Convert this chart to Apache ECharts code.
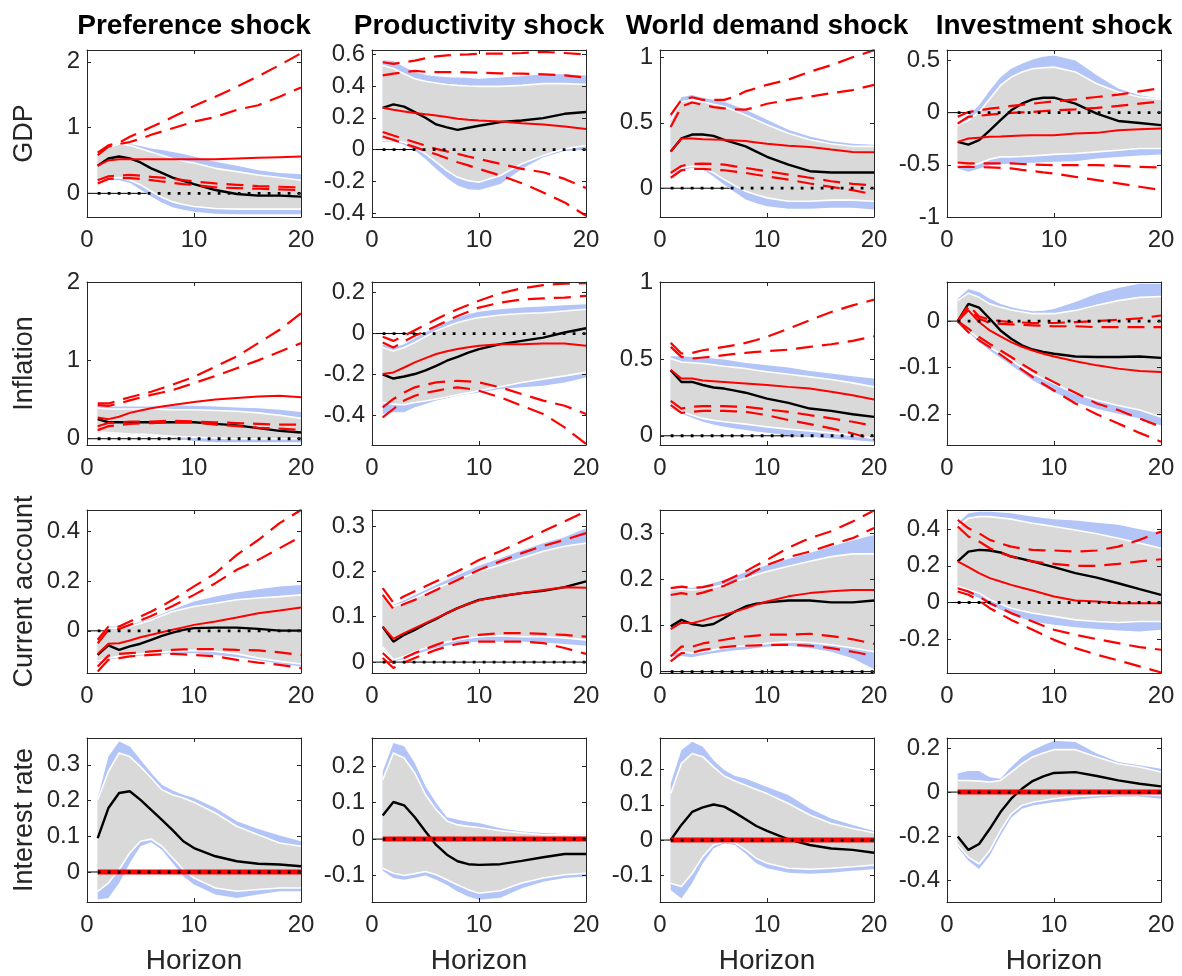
<!DOCTYPE html>
<html>
<head>
<meta charset="utf-8">
<script src="https://cdn.jsdelivr.net/npm/echarts@6/dist/echarts.min.js"></script>
<style>html,body{margin:0;padding:0;background:#fff}#c{width:1182px;height:976px}</style>
</head>
<body>
<div id="c"></div>
<script>
// ---------- shared axes / labels ----------
const H = [1,2,3,4,5,6,7,8,9,10,12,14,16,18,20];
const shocks = ['Preference shock','Productivity shock','World demand shock','Investment shock'];
const variables = ['GDP','Inflation','Current account','Interest rate'];
const xTicks = [0,10,20];

const gdpTicks = [[0,1,2],[-0.4,-0.2,0,0.2,0.4,0.6],[0,0.5,1],[-1,-0.5,0,0.5]];
const infTicks = [[0,1,2],[-0.4,-0.2,0,0.2],[0,0.5,1],[-0.2,-0.1,0]];
const caTicks  = [[0,0.2,0.4],[0,0.1,0.2,0.3],[0,0.1,0.2,0.3],[-0.2,0,0.2,0.4]];
const irTicks  = [[0,0.1,0.2,0.3],[-0.1,0,0.1,0.2],[-0.1,0,0.1,0.2],[-0.4,-0.2,0,0.2]];
const gdpLims = [[-0.36,2.18],[-0.425,0.627],[-0.22,1.056],[-1,0.6]];
const infLims = [[-0.08,2],[-0.545,0.252],[-0.06,1],[-0.266,0.084]];
const caLims  = [[-0.17,0.487],[-0.024,0.335],[-0.003,0.35],[-0.385,0.505]];
const irLims  = [[-0.084,0.375],[-0.173,0.278],[-0.176,0.29],[-0.5,0.246]];

// ---------- GDP ----------
const gdpPrefBlack = [0.42,0.53,0.56,0.53,0.47,0.38,0.31,0.24,0.19,0.14,0.05,-0.01,-0.035,-0.035,-0.05];
const gdpPrefRed   = [0.42,0.50,0.52,0.52,0.52,0.52,0.52,0.52,0.52,0.52,0.52,0.53,0.54,0.55,0.56];
const gdpPrefDU1   = [0.62,0.73,0.77,0.86,0.93,1.01,1.08,1.16,1.24,1.33,1.47,1.62,1.78,1.95,2.13];
const gdpPrefDU2   = [0.58,0.71,0.75,0.78,0.83,0.89,0.94,0.99,1.04,1.09,1.16,1.27,1.34,1.47,1.61];
const gdpPrefDL1   = [0.20,0.26,0.27,0.28,0.27,0.25,0.24,0.22,0.20,0.18,0.15,0.13,0.11,0.10,0.09];
const gdpPrefDL2   = [0.15,0.22,0.23,0.23,0.22,0.20,0.18,0.16,0.14,0.13,0.09,0.08,0.07,0.06,0.05];
const gdpPrefGHi   = [0.60,0.70,0.75,0.73,0.68,0.63,0.58,0.53,0.49,0.46,0.38,0.33,0.28,0.24,0.20];
const gdpPrefBHi   = [0.60,0.70,0.75,0.75,0.72,0.68,0.66,0.63,0.60,0.56,0.48,0.42,0.35,0.31,0.29];
const gdpPrefGLo   = [0.18,0.23,0.24,0.20,0.13,0.03,-0.06,-0.13,-0.17,-0.20,-0.23,-0.24,-0.24,-0.24,-0.24];
const gdpPrefBLo   = [0.16,0.20,0.20,0.16,0.06,-0.05,-0.14,-0.21,-0.25,-0.28,-0.31,-0.32,-0.32,-0.32,-0.32];

const gdpProdBlack = [0.263,0.284,0.27,0.236,0.2,0.158,0.14,0.124,0.137,0.15,0.173,0.183,0.198,0.225,0.236];
const gdpProdRed   = [0.263,0.25,0.24,0.23,0.222,0.215,0.205,0.194,0.188,0.183,0.177,0.166,0.158,0.145,0.13];
const gdpProdDU1   = [0.55,0.54,0.55,0.56,0.575,0.587,0.593,0.598,0.6,0.604,0.604,0.608,0.615,0.608,0.598];
const gdpProdDU2   = [0.467,0.478,0.487,0.495,0.49,0.488,0.488,0.488,0.486,0.484,0.48,0.478,0.474,0.467,0.453];
const gdpProdDL1   = [0.11,0.088,0.067,0.046,0.025,0.004,-0.012,-0.027,-0.044,-0.06,-0.09,-0.122,-0.143,-0.185,-0.242];
const gdpProdDL2   = [0.082,0.061,0.038,0.015,-0.008,-0.03,-0.055,-0.08,-0.1,-0.122,-0.164,-0.212,-0.27,-0.333,-0.417];
const gdpProdGHi   = [0.53,0.51,0.478,0.446,0.43,0.419,0.41,0.404,0.4,0.398,0.398,0.404,0.415,0.415,0.41];
const gdpProdBHi   = [0.562,0.558,0.52,0.488,0.47,0.461,0.456,0.453,0.45,0.446,0.453,0.461,0.474,0.474,0.467];
const gdpProdGLo   = [0.057,0.057,0.046,0.015,-0.027,-0.08,-0.133,-0.175,-0.196,-0.206,-0.164,-0.09,-0.038,0.004,0.025];
const gdpProdBLo   = [0.046,0.05,0.03,-0.006,-0.06,-0.122,-0.18,-0.227,-0.25,-0.255,-0.217,-0.122,-0.048,-0.01,0.0];

const gdpWorldBlack = [0.28,0.38,0.41,0.41,0.4,0.37,0.345,0.32,0.28,0.24,0.18,0.13,0.12,0.12,0.12];
const gdpWorldRed   = [0.28,0.38,0.38,0.375,0.372,0.37,0.365,0.36,0.35,0.34,0.325,0.315,0.295,0.277,0.274];
const gdpWorldDU1   = [0.56,0.675,0.695,0.675,0.675,0.675,0.7,0.74,0.765,0.79,0.83,0.89,0.94,1.0,1.055];
const gdpWorldDU2   = [0.467,0.624,0.655,0.637,0.62,0.61,0.603,0.6,0.62,0.645,0.675,0.7,0.726,0.75,0.79];
const gdpWorldDL1   = [0.117,0.17,0.185,0.188,0.185,0.18,0.167,0.155,0.142,0.13,0.104,0.08,0.053,0.033,0.02];
const gdpWorldDL2   = [0.08,0.137,0.147,0.147,0.142,0.137,0.127,0.117,0.103,0.09,0.066,0.036,0.01,-0.015,-0.048];
const gdpWorldGHi   = [0.523,0.66,0.675,0.66,0.642,0.624,0.592,0.56,0.522,0.485,0.42,0.37,0.34,0.32,0.32];
const gdpWorldBHi   = [0.55,0.695,0.713,0.69,0.675,0.66,0.63,0.6,0.562,0.523,0.447,0.396,0.358,0.34,0.332];
const gdpWorldGLo   = [0.117,0.155,0.168,0.155,0.117,0.066,0.02,-0.023,-0.05,-0.074,-0.1,-0.1,-0.091,-0.091,-0.1];
const gdpWorldBLo   = [0.104,0.14,0.155,0.142,0.09,0.028,-0.03,-0.086,-0.115,-0.137,-0.157,-0.157,-0.15,-0.15,-0.162];

const gdpInvBlack = [-0.28,-0.306,-0.264,-0.169,-0.073,0.022,0.086,0.127,0.143,0.143,0.086,-0.01,-0.08,-0.1,-0.12];
const gdpInvRed   = [-0.28,-0.248,-0.24,-0.232,-0.228,-0.223,-0.22,-0.217,-0.217,-0.217,-0.2,-0.194,-0.169,-0.16,-0.153];
const gdpInvDU1   = [-0.04,0.006,0.022,0.038,0.05,0.064,0.075,0.086,0.097,0.108,0.127,0.15,0.172,0.204,0.236];
const gdpInvDU2   = [-0.105,-0.04,-0.03,-0.02,-0.01,-0.003,0.002,0.006,0.014,0.022,0.032,0.045,0.064,0.086,0.108];
const gdpInvDL1   = [-0.478,-0.487,-0.487,-0.487,-0.487,-0.487,-0.492,-0.497,-0.5,-0.503,-0.503,-0.503,-0.51,-0.52,-0.525];
const gdpInvDL2   = [-0.52,-0.52,-0.522,-0.525,-0.53,-0.535,-0.548,-0.56,-0.572,-0.583,-0.615,-0.646,-0.678,-0.71,-0.742];
const gdpInvGHi   = [-0.12,-0.073,0.006,0.134,0.26,0.34,0.39,0.42,0.43,0.436,0.39,0.277,0.197,0.15,0.127];
const gdpInvBHi   = [-0.09,-0.025,0.07,0.213,0.34,0.42,0.468,0.51,0.535,0.548,0.5,0.357,0.23,0.166,0.134];
const gdpInvGLo   = [-0.503,-0.52,-0.487,-0.446,-0.424,-0.424,-0.42,-0.414,-0.407,-0.4,-0.392,-0.376,-0.36,-0.344,-0.344];
const gdpInvBLo   = [-0.535,-0.567,-0.535,-0.503,-0.495,-0.487,-0.483,-0.48,-0.475,-0.47,-0.465,-0.44,-0.424,-0.41,-0.4];

// ---------- Inflation ----------
const infPrefBlack = [0.25,0.21,0.21,0.21,0.21,0.21,0.21,0.21,0.21,0.21,0.19,0.17,0.136,0.1,0.08];
const infPrefRed   = [0.27,0.25,0.28,0.33,0.36,0.39,0.41,0.43,0.45,0.47,0.5,0.52,0.54,0.55,0.53];
const infPrefDU1   = [0.45,0.45,0.49,0.53,0.565,0.6,0.645,0.69,0.74,0.79,0.92,1.05,1.22,1.39,1.6];
const infPrefDU2   = [0.43,0.42,0.45,0.49,0.525,0.56,0.59,0.62,0.665,0.71,0.8,0.9,1.0,1.11,1.22];
const infPrefDL1   = [0.16,0.2,0.21,0.22,0.22,0.22,0.225,0.23,0.225,0.22,0.21,0.2,0.19,0.18,0.18];
const infPrefDL2   = [0.11,0.16,0.175,0.19,0.195,0.2,0.205,0.21,0.215,0.21,0.18,0.16,0.14,0.13,0.11];
const infPrefGHi   = [0.39,0.38,0.38,0.38,0.38,0.38,0.375,0.37,0.37,0.37,0.36,0.35,0.33,0.3,0.26];
const infPrefBHi   = [0.42,0.41,0.41,0.41,0.41,0.41,0.415,0.42,0.42,0.42,0.41,0.4,0.39,0.37,0.34];
const infPrefGLo   = [0.09,0.08,0.07,0.06,0.055,0.05,0.04,0.03,0.025,0.02,0.01,0.0,0.0,0.0,0.0];
const infPrefBLo   = [0.08,0.07,0.06,0.05,0.045,0.04,0.03,0.015,-0.01,-0.03,-0.045,-0.045,-0.045,-0.045,-0.045];

const infProdBlack = [-0.2,-0.22,-0.21,-0.198,-0.18,-0.158,-0.133,-0.114,-0.093,-0.076,-0.052,-0.036,-0.02,0.005,0.026];
const infProdRed   = [-0.198,-0.19,-0.166,-0.141,-0.12,-0.1,-0.087,-0.076,-0.067,-0.06,-0.052,-0.052,-0.049,-0.049,-0.06];
const infProdDU1   = [-0.016,-0.036,-0.011,0.016,0.043,0.07,0.095,0.119,0.14,0.16,0.197,0.221,0.237,0.244,0.246];
const infProdDU2   = [-0.044,-0.068,-0.039,-0.011,0.013,0.037,0.062,0.086,0.107,0.127,0.151,0.167,0.172,0.176,0.184];
const infProdDL1   = [-0.361,-0.32,-0.288,-0.263,-0.25,-0.239,-0.234,-0.231,-0.234,-0.239,-0.263,-0.296,-0.328,-0.353,-0.393];
const infProdDL2   = [-0.41,-0.369,-0.328,-0.304,-0.29,-0.28,-0.27,-0.263,-0.27,-0.28,-0.312,-0.353,-0.393,-0.459,-0.54];
const infProdGHi   = [-0.068,-0.085,-0.068,-0.044,-0.015,0.013,0.034,0.054,0.067,0.078,0.091,0.098,0.102,0.11,0.119];
const infProdBHi   = [-0.052,-0.068,-0.052,-0.023,0.005,0.033,0.056,0.078,0.094,0.107,0.119,0.127,0.132,0.138,0.143];
const infProdGLo   = [-0.337,-0.345,-0.348,-0.337,-0.33,-0.32,-0.31,-0.299,-0.29,-0.28,-0.26,-0.239,-0.223,-0.207,-0.19];
const infProdBLo   = [-0.393,-0.385,-0.385,-0.361,-0.345,-0.328,-0.316,-0.304,-0.296,-0.288,-0.271,-0.263,-0.255,-0.239,-0.215];

const infWorldBlack = [0.426,0.35,0.35,0.33,0.314,0.307,0.294,0.28,0.261,0.242,0.214,0.177,0.162,0.14,0.123];
const infWorldRed   = [0.43,0.372,0.372,0.36,0.355,0.35,0.345,0.34,0.335,0.33,0.318,0.307,0.286,0.264,0.236];
const infWorldDU1   = [0.604,0.535,0.539,0.556,0.567,0.578,0.59,0.604,0.623,0.643,0.697,0.751,0.805,0.848,0.885];
const infWorldDU2   = [0.578,0.513,0.502,0.509,0.516,0.524,0.532,0.539,0.545,0.55,0.56,0.578,0.595,0.617,0.647];
const infWorldDL1   = [0.227,0.177,0.188,0.193,0.193,0.193,0.19,0.188,0.18,0.171,0.156,0.134,0.113,0.091,0.063];
const infWorldDL2   = [0.2,0.149,0.156,0.162,0.162,0.162,0.159,0.156,0.145,0.134,0.102,0.076,0.048,0.015,-0.024];
const infWorldGHi   = [0.502,0.48,0.475,0.47,0.461,0.452,0.445,0.437,0.426,0.416,0.4,0.383,0.366,0.344,0.318];
const infWorldBHi   = [0.517,0.517,0.513,0.509,0.503,0.496,0.485,0.474,0.466,0.459,0.444,0.422,0.405,0.387,0.372];
const infWorldGLo   = [0.188,0.156,0.134,0.113,0.1,0.091,0.083,0.076,0.067,0.058,0.043,0.032,0.019,0.004,-0.017];
const infWorldBLo   = [0.177,0.145,0.118,0.091,0.074,0.058,0.047,0.037,0.028,0.019,0.004,-0.006,-0.017,-0.028,-0.039];

const infInvBlack = [0,0.037,0.029,0.005,-0.02,-0.038,-0.052,-0.061,-0.066,-0.07,-0.076,-0.077,-0.077,-0.076,-0.079];
const infInvRed   = [0,0.023,-0.002,-0.02,-0.033,-0.045,-0.055,-0.063,-0.07,-0.076,-0.086,-0.095,-0.102,-0.107,-0.109];
const infInvDU1   = [0,0.034,0.01,0.003,0,-0.002,-0.003,-0.004,-0.004,-0.004,-0.002,0,0.003,0.006,0.012];
const infInvDU2   = [0,0.029,0.005,-0.004,-0.006,-0.007,-0.008,-0.009,-0.01,-0.011,-0.011,-0.013,-0.013,-0.013,-0.013];
const infInvDL1   = [0,-0.016,-0.034,-0.049,-0.063,-0.077,-0.092,-0.106,-0.119,-0.131,-0.154,-0.177,-0.191,-0.209,-0.227];
const infInvDL2   = [0,-0.024,-0.041,-0.056,-0.072,-0.088,-0.104,-0.12,-0.135,-0.149,-0.177,-0.2,-0.22,-0.24,-0.259];
const infInvGHi   = [0.044,0.06,0.051,0.037,0.03,0.024,0.02,0.016,0.016,0.016,0.023,0.034,0.044,0.051,0.053];
const infInvBHi   = [0.048,0.069,0.062,0.048,0.037,0.03,0.025,0.021,0.022,0.026,0.041,0.059,0.071,0.08,0.08];
const infInvGLo   = [-0.006,-0.02,-0.038,-0.056,-0.07,-0.084,-0.099,-0.113,-0.124,-0.134,-0.156,-0.17,-0.181,-0.191,-0.206];
const infInvBLo   = [-0.008,-0.024,-0.045,-0.063,-0.079,-0.095,-0.111,-0.127,-0.14,-0.152,-0.174,-0.188,-0.199,-0.209,-0.224];

// ---------- Current account ----------
const caPrefBlack = [-0.097,-0.059,-0.077,-0.063,-0.052,-0.036,-0.02,-0.007,0.004,0.011,0.013,0.013,0.008,0.001,0.001];
const caPrefRed   = [-0.093,-0.052,-0.05,-0.039,-0.026,-0.016,-0.006,0.004,0.014,0.024,0.038,0.054,0.071,0.082,0.094];
const caPrefDU1   = [-0.036,0.017,0.017,0.038,0.058,0.078,0.1,0.125,0.152,0.179,0.232,0.306,0.366,0.434,0.487];
const caPrefDU2   = [-0.05,0.004,0.007,0.024,0.042,0.06,0.08,0.1,0.122,0.145,0.192,0.246,0.286,0.333,0.38];
const caPrefDL1   = [-0.144,-0.1,-0.093,-0.09,-0.087,-0.083,-0.08,-0.077,-0.075,-0.074,-0.074,-0.077,-0.079,-0.087,-0.097];
const caPrefDL2   = [-0.164,-0.117,-0.11,-0.103,-0.1,-0.097,-0.095,-0.093,-0.095,-0.097,-0.103,-0.117,-0.128,-0.137,-0.15];
const caPrefGHi   = [-0.03,0.011,0.011,0.017,0.03,0.044,0.061,0.078,0.088,0.098,0.111,0.125,0.132,0.138,0.145];
const caPrefBHi   = [-0.023,0.017,0.017,0.024,0.037,0.051,0.068,0.085,0.102,0.118,0.138,0.154,0.168,0.179,0.185];
const caPrefGLo   = [-0.123,-0.11,-0.103,-0.097,-0.093,-0.09,-0.087,-0.083,-0.081,-0.079,-0.083,-0.093,-0.11,-0.123,-0.134];
const caPrefBLo   = [-0.13,-0.117,-0.11,-0.103,-0.1,-0.097,-0.093,-0.09,-0.09,-0.09,-0.097,-0.106,-0.119,-0.133,-0.144];

const caProdBlack = [0.078,0.045,0.06,0.071,0.084,0.095,0.108,0.119,0.128,0.137,0.145,0.152,0.157,0.165,0.178];
const caProdRed   = [0.078,0.051,0.064,0.075,0.086,0.097,0.108,0.119,0.128,0.136,0.145,0.152,0.159,0.165,0.164];
const caProdDU1   = [0.163,0.131,0.145,0.156,0.167,0.178,0.189,0.2,0.212,0.225,0.244,0.266,0.288,0.31,0.332];
const caProdDU2   = [0.148,0.117,0.128,0.137,0.148,0.159,0.17,0.181,0.192,0.203,0.222,0.24,0.256,0.269,0.284];
const caProdDL1   = [0.02,-0.002,0.009,0.02,0.029,0.038,0.046,0.053,0.057,0.06,0.064,0.064,0.062,0.06,0.056];
const caProdDL2   = [0.009,-0.013,-0.001,0.009,0.018,0.027,0.034,0.04,0.043,0.045,0.045,0.045,0.042,0.031,0.018];
const caProdGHi   = [0.156,0.123,0.13,0.141,0.152,0.163,0.172,0.181,0.191,0.2,0.214,0.229,0.244,0.255,0.262];
const caProdBHi   = [0.159,0.126,0.136,0.148,0.159,0.17,0.181,0.192,0.202,0.212,0.229,0.246,0.262,0.275,0.295];
const caProdGLo   = [0.034,0.005,0.012,0.023,0.031,0.038,0.044,0.049,0.053,0.056,0.058,0.056,0.056,0.053,0.049];
const caProdBLo   = [0.031,0.002,0.007,0.016,0.024,0.031,0.036,0.04,0.043,0.045,0.045,0.045,0.043,0.04,0.036];

const caWorldBlack = [0.098,0.112,0.103,0.099,0.103,0.116,0.13,0.141,0.147,0.15,0.154,0.154,0.15,0.15,0.154];
const caWorldRed   = [0.092,0.106,0.105,0.111,0.118,0.123,0.13,0.137,0.145,0.152,0.163,0.17,0.174,0.177,0.177];
const caWorldDU1   = [0.181,0.184,0.181,0.183,0.188,0.195,0.206,0.217,0.23,0.242,0.268,0.289,0.304,0.325,0.349];
const caWorldDU2   = [0.166,0.17,0.166,0.171,0.178,0.186,0.196,0.206,0.219,0.231,0.248,0.26,0.275,0.289,0.311];
const caWorldDL1   = [0.033,0.054,0.054,0.061,0.065,0.069,0.073,0.076,0.078,0.08,0.08,0.082,0.077,0.07,0.06];
const caWorldDL2   = [0.022,0.04,0.041,0.047,0.05,0.053,0.055,0.056,0.057,0.058,0.058,0.056,0.051,0.043,0.034];
const caWorldGHi   = [0.177,0.179,0.177,0.179,0.183,0.188,0.195,0.202,0.21,0.217,0.228,0.239,0.249,0.255,0.255];
const caWorldBHi   = [0.181,0.183,0.181,0.186,0.192,0.199,0.207,0.215,0.223,0.231,0.244,0.257,0.271,0.284,0.296];
const caWorldGLo   = [0.04,0.043,0.04,0.043,0.047,0.051,0.054,0.056,0.059,0.061,0.065,0.063,0.058,0.051,0.043];
const caWorldBLo   = [0.033,0.034,0.031,0.036,0.04,0.043,0.046,0.048,0.051,0.054,0.056,0.051,0.043,0.029,0.005];

const caInvBlack = [0.224,0.278,0.287,0.284,0.273,0.251,0.238,0.224,0.208,0.193,0.16,0.136,0.105,0.073,0.042];
const caInvRed   = [0.224,0.193,0.16,0.133,0.115,0.096,0.08,0.065,0.049,0.033,0.011,0.005,-0.004,-0.004,-0.004];
const caInvDU1   = [0.451,0.405,0.378,0.342,0.322,0.305,0.295,0.287,0.285,0.284,0.278,0.284,0.305,0.342,0.387];
const caInvDU2   = [0.415,0.36,0.333,0.296,0.272,0.251,0.236,0.224,0.216,0.211,0.2,0.2,0.211,0.224,0.236];
const caInvDL1   = [0.078,0.06,0.033,-0.004,-0.031,-0.058,-0.081,-0.104,-0.127,-0.149,-0.176,-0.2,-0.222,-0.244,-0.258];
const caInvDL2   = [0.06,0.042,0.011,-0.031,-0.063,-0.095,-0.122,-0.149,-0.177,-0.204,-0.249,-0.285,-0.316,-0.349,-0.382];
const caInvGHi   = [0.415,0.46,0.469,0.469,0.462,0.455,0.444,0.433,0.424,0.415,0.396,0.375,0.351,0.324,0.296];
const caInvBHi   = [0.433,0.487,0.496,0.496,0.491,0.487,0.478,0.469,0.462,0.455,0.447,0.436,0.424,0.4,0.378];
const caInvGLo   = [0.087,0.069,0.051,0.015,-0.008,-0.031,-0.045,-0.058,-0.067,-0.076,-0.095,-0.104,-0.109,-0.104,-0.104];
const caInvBLo   = [0.078,0.051,0.024,-0.013,-0.04,-0.067,-0.086,-0.104,-0.113,-0.122,-0.135,-0.145,-0.153,-0.158,-0.149];

// ---------- Interest rate ----------
const irPrefBlack = [0.095,0.179,0.221,0.226,0.202,0.174,0.146,0.117,0.086,0.067,0.044,0.03,0.023,0.021,0.016];
const irPrefRed   = [0,0,0,0,0,0,0,0,0,0,0,0,0,0,0];
const irPrefGHi   = [0.202,0.281,0.333,0.323,0.295,0.263,0.23,0.216,0.207,0.195,0.165,0.128,0.104,0.081,0.072];
const irPrefBHi   = [0.207,0.323,0.365,0.351,0.314,0.277,0.244,0.228,0.216,0.207,0.179,0.142,0.12,0.102,0.086];
const irPrefGLo   = [-0.054,-0.031,0.007,0.053,0.086,0.092,0.072,0.039,0.007,-0.017,-0.045,-0.054,-0.049,-0.045,-0.045];
const irPrefBLo   = [-0.077,-0.073,-0.031,0.025,0.072,0.083,0.062,0.025,-0.012,-0.035,-0.063,-0.073,-0.063,-0.054,-0.054];

const irProdBlack = [0.065,0.102,0.093,0.06,0.021,-0.016,-0.043,-0.061,-0.069,-0.071,-0.069,-0.06,-0.05,-0.041,-0.041];
const irProdRed   = [0,0,0,0,0,0,0,0,0,0,0,0,0,0,0];
const irProdGHi   = [0.163,0.237,0.223,0.182,0.122,0.081,0.05,0.039,0.035,0.032,0.023,0.017,0.012,0.012,0.01];
const irProdBHi   = [0.186,0.264,0.255,0.209,0.145,0.099,0.06,0.053,0.048,0.044,0.03,0.021,0.017,0.014,0.012];
const irProdGLo   = [-0.08,-0.094,-0.1,-0.095,-0.089,-0.098,-0.112,-0.126,-0.139,-0.149,-0.142,-0.121,-0.107,-0.098,-0.094];
const irProdBLo   = [-0.087,-0.107,-0.112,-0.106,-0.1,-0.112,-0.126,-0.144,-0.158,-0.167,-0.161,-0.135,-0.117,-0.107,-0.103];

const irWorldBlack = [0,0.043,0.08,0.093,0.101,0.095,0.078,0.059,0.04,0.026,0.002,-0.014,-0.024,-0.028,-0.036];
const irWorldRed   = [0,0,0,0,0,0,0,0,0,0,0,0,0,0,0];
const irWorldGHi   = [0.132,0.218,0.246,0.237,0.208,0.182,0.168,0.156,0.144,0.132,0.104,0.071,0.047,0.033,0.021];
const irWorldBHi   = [0.161,0.255,0.279,0.265,0.227,0.199,0.182,0.175,0.163,0.151,0.128,0.09,0.061,0.043,0.026];
const irWorldGLo   = [-0.123,-0.132,-0.095,-0.047,-0.014,-0.005,-0.008,-0.028,-0.052,-0.066,-0.08,-0.083,-0.08,-0.076,-0.071];
const irWorldBLo   = [-0.142,-0.166,-0.123,-0.066,-0.024,-0.009,-0.014,-0.038,-0.066,-0.08,-0.093,-0.096,-0.093,-0.087,-0.083];

const irInvBlack = [-0.202,-0.263,-0.236,-0.167,-0.091,-0.03,0.015,0.05,0.071,0.087,0.091,0.073,0.053,0.038,0.026];
const irInvRed   = [0,0,0,0,0,0,0,0,0,0,0,0,0,0,0];
const irInvGHi   = [0.053,0.053,0.05,0.046,0.053,0.091,0.129,0.16,0.178,0.193,0.193,0.16,0.129,0.114,0.091];
const irInvBHi   = [0.084,0.096,0.096,0.068,0.061,0.114,0.16,0.19,0.213,0.233,0.228,0.175,0.137,0.122,0.106];
const irInvGLo   = [-0.24,-0.296,-0.327,-0.266,-0.175,-0.099,-0.061,-0.046,-0.038,-0.03,-0.02,-0.015,-0.011,-0.011,-0.015];
const irInvBLo   = [-0.25,-0.312,-0.35,-0.289,-0.198,-0.117,-0.076,-0.061,-0.053,-0.046,-0.035,-0.026,-0.02,-0.02,-0.03];

// ---------- panel table built from the arrays ----------
const panels = [
  {black:gdpPrefBlack,red:gdpPrefRed,d:[gdpPrefDU1,gdpPrefDU2,gdpPrefDL1,gdpPrefDL2],gHi:gdpPrefGHi,gLo:gdpPrefGLo,bHi:gdpPrefBHi,bLo:gdpPrefBLo},
  {black:gdpProdBlack,red:gdpProdRed,d:[gdpProdDU1,gdpProdDU2,gdpProdDL1,gdpProdDL2],gHi:gdpProdGHi,gLo:gdpProdGLo,bHi:gdpProdBHi,bLo:gdpProdBLo},
  {black:gdpWorldBlack,red:gdpWorldRed,d:[gdpWorldDU1,gdpWorldDU2,gdpWorldDL1,gdpWorldDL2],gHi:gdpWorldGHi,gLo:gdpWorldGLo,bHi:gdpWorldBHi,bLo:gdpWorldBLo},
  {black:gdpInvBlack,red:gdpInvRed,d:[gdpInvDU1,gdpInvDU2,gdpInvDL1,gdpInvDL2],gHi:gdpInvGHi,gLo:gdpInvGLo,bHi:gdpInvBHi,bLo:gdpInvBLo},
  {black:infPrefBlack,red:infPrefRed,d:[infPrefDU1,infPrefDU2,infPrefDL1,infPrefDL2],gHi:infPrefGHi,gLo:infPrefGLo,bHi:infPrefBHi,bLo:infPrefBLo},
  {black:infProdBlack,red:infProdRed,d:[infProdDU1,infProdDU2,infProdDL1,infProdDL2],gHi:infProdGHi,gLo:infProdGLo,bHi:infProdBHi,bLo:infProdBLo},
  {black:infWorldBlack,red:infWorldRed,d:[infWorldDU1,infWorldDU2,infWorldDL1,infWorldDL2],gHi:infWorldGHi,gLo:infWorldGLo,bHi:infWorldBHi,bLo:infWorldBLo},
  {black:infInvBlack,red:infInvRed,d:[infInvDU1,infInvDU2,infInvDL1,infInvDL2],gHi:infInvGHi,gLo:infInvGLo,bHi:infInvBHi,bLo:infInvBLo},
  {black:caPrefBlack,red:caPrefRed,d:[caPrefDU1,caPrefDU2,caPrefDL1,caPrefDL2],gHi:caPrefGHi,gLo:caPrefGLo,bHi:caPrefBHi,bLo:caPrefBLo},
  {black:caProdBlack,red:caProdRed,d:[caProdDU1,caProdDU2,caProdDL1,caProdDL2],gHi:caProdGHi,gLo:caProdGLo,bHi:caProdBHi,bLo:caProdBLo},
  {black:caWorldBlack,red:caWorldRed,d:[caWorldDU1,caWorldDU2,caWorldDL1,caWorldDL2],gHi:caWorldGHi,gLo:caWorldGLo,bHi:caWorldBHi,bLo:caWorldBLo},
  {black:caInvBlack,red:caInvRed,d:[caInvDU1,caInvDU2,caInvDL1,caInvDL2],gHi:caInvGHi,gLo:caInvGLo,bHi:caInvBHi,bLo:caInvBLo},
  {black:irPrefBlack,red:irPrefRed,d:[],gHi:irPrefGHi,gLo:irPrefGLo,bHi:irPrefBHi,bLo:irPrefBLo,thickRed:true},
  {black:irProdBlack,red:irProdRed,d:[],gHi:irProdGHi,gLo:irProdGLo,bHi:irProdBHi,bLo:irProdBLo,thickRed:true},
  {black:irWorldBlack,red:irWorldRed,d:[],gHi:irWorldGHi,gLo:irWorldGLo,bHi:irWorldBHi,bLo:irWorldBLo,thickRed:true},
  {black:irInvBlack,red:irInvRed,d:[],gHi:irInvGHi,gLo:irInvGLo,bHi:irInvBHi,bLo:irInvBLo,thickRed:true}
];
const tickRows = [gdpTicks, infTicks, caTicks, irTicks];
const limRows = [gdpLims, infLims, caLims, irLims];

// ---------- layout & style ----------
const FONT = '"Liberation Sans", Arial, Helvetica, sans-serif';
const AX = '#262626';
const colLeft = [87, 372, 660, 947];
const colW = 214;
const rowTop = [50, 282, 510, 738];
const rowH = [167, 163, 163, 164];
const BLUE = '#b3c5f7';
const GREY = '#d9d9d9';

function fmt(v){ return String(Math.round(v*1000)/1000); }
function pts(arr){ return H.map((h,i)=>[h, arr[i]]); }

const grids = [], xAxes = [], yAxes = [], series = [], titles = [];

shocks.forEach((s, c) => {
  titles.push({text: s, left: colLeft[c] + colW/2, top: 12, textAlign: 'center', padding: 0,
    textStyle: {fontFamily: FONT, fontSize: 28, fontWeight: 'bold', color: '#000'}});
});

function band(g, lo, hi, color, z) {
  return {
    type: 'custom', xAxisIndex: 2*g, yAxisIndex: 2*g, silent: true, z: z,
    data: H.map((h,i)=>[h, lo[i], hi[i]]),
    encode: {x: 0, y: [1, 2]},
    renderItem: function (params, api) {
      if (params.dataIndex !== 0) return null;
      const top = H.map((h,i)=>api.coord([h, hi[i]]));
      const bot = H.map((h,i)=>api.coord([h, lo[i]])).reverse();
      const cs = params.coordSys;
      return {type: 'polygon', shape: {points: top.concat(bot)}, style: {fill: color},
        clipPath: {type: 'rect', shape: {x: cs.x, y: cs.y, width: cs.width, height: cs.height}}};
    }
  };
}
function line(g, data, color, width, type, z) {
  return {type: 'line', xAxisIndex: 2*g, yAxisIndex: 2*g, data: data, symbol: 'none', silent: true,
    z: z, clip: true, lineStyle: {color: color, width: width, type: type, cap: 'butt'}};
}

for (let r = 0; r < 4; r++) {
  for (let c = 0; c < 4; c++) {
    const g = r*4 + c;
    const p = panels[g];
    const ticks = tickRows[r][c];
    const lim = limRows[r][c];
    grids.push({left: colLeft[c], top: rowTop[r], width: colW, height: rowH[r], show: false});
    const lineStyle = {color: AX, width: 1};
    const baseX = {type: 'value', gridIndex: g, min: 0, max: 20, interval: 10, z: 10,
      axisLine: {show: true, onZero: false, lineStyle: lineStyle},
      axisTick: {inside: true, length: 4, lineStyle: lineStyle},
      splitLine: {show: false}};
    xAxes.push(Object.assign({}, baseX, {position: 'bottom',
      axisLabel: {fontFamily: FONT, fontSize: 24, color: AX, margin: 11},
      name: r === 3 ? 'Horizon' : '', nameLocation: 'middle', nameGap: 45,
      nameTextStyle: {fontFamily: FONT, fontSize: 28, color: AX}}));
    xAxes.push(Object.assign({}, baseX, {position: 'top', axisLabel: {show: false}}));
    const baseY = {type: 'value', gridIndex: g, min: lim[0], max: lim[1], z: 10,
      axisLine: {show: true, onZero: false, lineStyle: lineStyle},
      axisTick: {inside: true, length: 4, lineStyle: lineStyle, customValues: ticks},
      splitLine: {show: false}};
    yAxes.push(Object.assign({}, baseY, {position: 'left',
      axisLabel: {fontFamily: FONT, fontSize: 24, color: AX, margin: 7, customValues: ticks, formatter: fmt},
      name: c === 0 ? variables[r] : '', nameLocation: 'middle', nameGap: 49,
      nameTextStyle: {fontFamily: FONT, fontSize: 27, color: AX}}));
    yAxes.push(Object.assign({}, baseY, {position: 'right', axisLabel: {show: false}}));

    // thin zero line under the bands
    series.push(line(g, [[0,0],[20,0]], '#000', 1, 'solid', 1));
    series.push(band(g, p.bLo, p.bHi, BLUE, 2));
    series.push(band(g, p.gLo, p.gHi, GREY, 3));
    series.push(line(g, pts(p.gHi), '#ffffff', 1.6, 'solid', 4));
    series.push(line(g, pts(p.gLo), '#ffffff', 1.6, 'solid', 4));
    series.push(line(g, pts(p.black), '#000', 2.4, 'solid', 5));
    p.d.forEach(arr => series.push(line(g, pts(arr), '#ff0000', 2.2, [17, 9], 6)));
    series.push(line(g, pts(p.red), '#ff0000', p.thickRed ? 5 : 2, 'solid', 7));
    // dotted zero line on top
    series.push(line(g, [[1,0],[20,0]], '#000', 2.8, [2.8, 7.2], 8));
  }
}

const chart = echarts.init(document.getElementById('c'), null, {renderer: 'canvas'});
chart.setOption({
  backgroundColor: '#ffffff',
  animation: false,
  title: titles,
  grid: grids,
  xAxis: xAxes,
  yAxis: yAxes,
  series: series
});
</script>
</body>
</html>
